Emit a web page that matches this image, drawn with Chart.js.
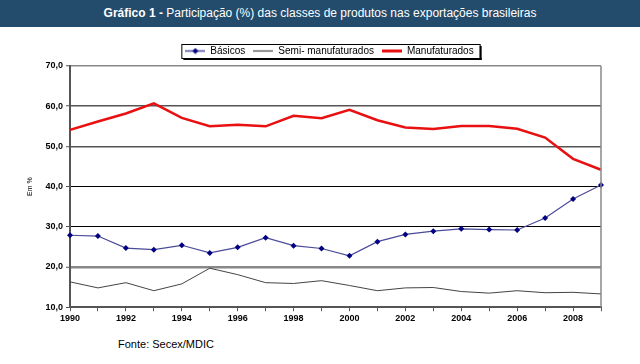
<!DOCTYPE html>
<html>
<head>
<meta charset="utf-8">
<script src="https://cdn.jsdelivr.net/npm/chart.js@4"></script>
<style>
  body { margin: 0; background: #fff; font-family: "Liberation Sans", Arial, sans-serif; }
  #banner {
    position: absolute; left: 0; top: 0; width: 640px; height: 27px;
    background: #234b6b; color: #fff; font-size: 12px;
    text-align: center; line-height: 27px;
  }
  #banner b { font-weight: bold; }
  #wrap { position: absolute; left: 0; top: 36px; width: 640px; height: 290px; }
  #fonte { position: absolute; left: 118px; top: 338px; font-size: 11px; color: #000; }
</style>
</head>
<body>
<div id="banner"><b>Gráfico 1 -</b> Participação (%) das classes de produtos nas exportações brasileiras</div>
<div id="wrap"><canvas id="exportChart"></canvas></div>
<div id="fonte">Fonte: Secex/MDIC</div>
<script>
// anos e participação (%) de cada classe
const anos = ['1990', '1991', '1992', '1993', '1994', '1995', '1996', '1997', '1998', '1999',
              '2000', '2001', '2002', '2003', '2004', '2005', '2006', '2007', '2008', '2009'];
const basicos = [27.9, 27.7, 24.7, 24.3, 25.4, 23.5, 24.9, 27.3, 25.3, 24.6,
                 22.8, 26.3, 28.1, 28.9, 29.5, 29.3, 29.2, 32.2, 36.9, 40.4];
const semiManufaturados = [16.3, 14.8, 16.1, 14.1, 15.8, 19.7, 18.1, 16.1, 15.9, 16.6,
                           15.4, 14.1, 14.8, 14.9, 13.9, 13.5, 14.1, 13.6, 13.7, 13.3];
const manufaturados = [54.1, 56.2, 58.2, 60.7, 57.1, 55.0, 55.4, 55.0, 57.6, 57.0,
                       59.1, 56.5, 54.7, 54.3, 55.1, 55.1, 54.4, 52.2, 46.9, 44.2];

// amostras da legenda (linha + marcador)
function amostra(cor, largura, comMarcador) {
    const c = document.createElement('canvas');
    c.width = 20; c.height = 7;
    const g = c.getContext('2d');
    g.strokeStyle = cor;
    g.lineWidth = largura;
    g.beginPath();
    g.moveTo(0, 3.5);
    g.lineTo(20, 3.5);
    g.stroke();
    if (comMarcador) {
        g.fillStyle = '#000080';
        g.beginPath();
        g.moveTo(10, 0.5); g.lineTo(13, 3.5); g.lineTo(10, 6.5); g.lineTo(7, 3.5);
        g.closePath();
        g.fill();
    }
    return c;
}
const amostras = [amostra('#4a4a9a', 1.5, true), amostra('#444', 1.2, false), amostra('#e81010', 3, false)];

// moldura da legenda e borda direita
const molduras = {
    id: 'molduras',
    afterLayout(chart) {
        // legenda um pouco à direita, como no original
        if (chart.legend) {
            chart.legend.left += 29;
            chart.legend.right += 29;
        }
    },
    afterDraw(chart) {
        const c = chart.ctx;
        const area = chart.chartArea;
        c.save();
        c.strokeStyle = '#888';
        c.lineWidth = 1.5;
        c.beginPath();
        c.moveTo(area.right, area.top);
        c.lineTo(area.right, area.bottom);
        c.stroke();

        const caixas = chart.legend.legendHitBoxes;
        if (caixas && caixas.length) {
            const x0 = caixas[0].left - 4;
            const ultimo = caixas[caixas.length - 1];
            const x1 = ultimo.left + ultimo.width + 6;
            const y0 = caixas[0].top - 2;
            const y1 = caixas[0].top + caixas[0].height + 2;
            c.fillStyle = '#000';
            c.fillRect(x0 + 2, y1, x1 - x0, 2);
            c.fillRect(x1, y0 + 2, 2, y1 - y0);
            c.strokeStyle = '#000';
            c.lineWidth = 1;
            c.strokeRect(x0 + 0.5, y0 + 0.5, x1 - x0, y1 - y0);
        }
        c.restore();
    }
};

const corGrade = {70: '#888', 60: '#555', 50: '#555', 40: '#000', 30: '#000', 20: '#888', 10: '#555'};
const larguraGrade = {70: 1.5, 60: 1.5, 50: 1.5, 40: 1, 30: 1, 20: 2.5, 10: 1};

const ctx = document.getElementById('exportChart').getContext('2d');
const exportChart = new Chart(ctx, {
    type: 'line',
    data: {
        labels: anos,
        datasets: [{
            label: 'Básicos',
            data: basicos,
            borderColor: '#4a4a9a',
            borderWidth: 1.2,
            pointStyle: 'rectRot',
            pointRadius: 3,
            pointBackgroundColor: '#000080',
            pointBorderColor: '#000080',
            pointBorderWidth: 0,
            tension: 0
        }, {
            label: 'Semi- manufaturados',
            data: semiManufaturados,
            borderColor: '#444',
            borderWidth: 1,
            pointRadius: 0,
            tension: 0
        }, {
            label: 'Manufaturados',
            data: manufaturados,
            borderColor: '#e81010',
            borderWidth: 2.5,
            pointRadius: 0,
            tension: 0
        }]
    },
    options: {
        responsive: true,
        maintainAspectRatio: false,
        animation: false,
        layout: {
            padding: { top: 2, right: 39, bottom: 0, left: 0 }
        },
        plugins: {
            legend: {
                display: true,
                position: 'top',
                labels: {
                    usePointStyle: true,
                    pointStyleWidth: 20,
                    padding: 8,
                    color: '#000',
                    font: { family: 'Liberation Sans', size: 10 },
                    generateLabels(chart) {
                        return chart.data.datasets.map((ds, i) => ({
                            text: ds.label,
                            pointStyle: amostras[i],
                            fillStyle: 'transparent',
                            strokeStyle: 'transparent',
                            lineWidth: 0,
                            hidden: false,
                            datasetIndex: i,
                            fontColor: '#000'
                        }));
                    }
                }
            },
            tooltip: { enabled: false }
        },
        scales: {
            x: {
                offset: false,
                grid: {
                    drawOnChartArea: false,
                    drawTicks: true,
                    tickLength: 4,
                    color: '#555'
                },
                border: { color: '#555', width: 2 },
                ticks: {
                    autoSkip: false,
                    maxRotation: 0,
                    padding: 2,
                    color: '#000',
                    font: { family: 'Liberation Sans', size: 9, weight: 'bold' },
                    callback(val, i) {
                        return i % 2 === 0 ? this.getLabelForValue(val) : '';
                    }
                }
            },
            y: {
                min: 10,
                max: 70,
                title: {
                    display: true,
                    text: 'Em %',
                    color: '#000',
                    font: { family: 'Liberation Sans', size: 7 },
                    padding: { top: 26, bottom: 0 }
                },
                grid: {
                    color: c => corGrade[c.tick.value] || '#555',
                    lineWidth: c => larguraGrade[c.tick.value] || 1,
                    tickColor: '#555',
                    tickWidth: 1,
                    tickLength: 4
                },
                border: { color: '#555', width: 2 },
                ticks: {
                    stepSize: 10,
                    padding: 3,
                    color: '#000',
                    font: { family: 'Liberation Sans', size: 9, weight: 'bold' },
                    callback: v => v.toFixed(1).replace('.', ',')
                },
                afterFit(scale) { scale.width = 70; }
            }
        }
    },
    plugins: [molduras]
});
</script>
</body>
</html>
